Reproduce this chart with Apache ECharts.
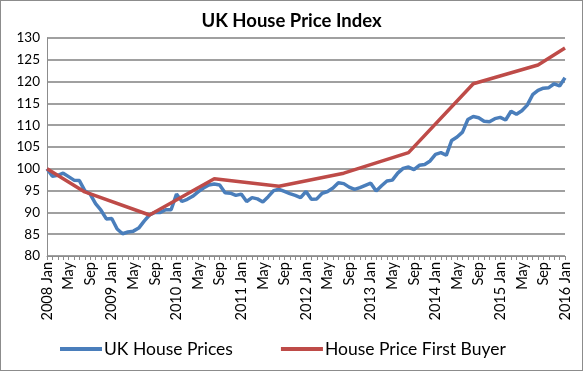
<!DOCTYPE html>
<html><head><meta charset="utf-8">
<script src="https://cdn.jsdelivr.net/npm/echarts@6/dist/echarts.min.js"></script>
<style>
html,body{margin:0;padding:0;background:#fff;}
#c{width:583px;height:371px;box-sizing:border-box;border:1px solid #8c8c8c;}
</style></head>
<body><div id="c"></div>
<script>
var years = [2008,2009,2010,2011,2012,2013,2014,2015,2016];
var monthNames = ['Jan','Feb','Mar','Apr','May','Jun','Jul','Aug','Sep','Oct','Nov','Dec'];
var categories = [];
years.forEach(function(y){ monthNames.forEach(function(m){ if (categories.length < 97) categories.push(m === 'Jan' ? y + ' Jan' : m); }); });

var ukHousePrices = [
 100, 98.3, 98.5, 99.0, 98.2, 97.4, 97.3, 95.0, 94.2, 92.0, 90.5, 88.5,
 88.6, 86.2, 85.1, 85.5, 85.7, 86.4, 88.0, 89.4, 90.0, 90.0, 90.6, 90.6,
 94.2, 92.5, 93.0, 93.7, 94.7, 95.6, 96.3, 96.5, 96.3, 94.5, 94.4, 93.9,
 94.2, 92.5, 93.4, 93.1, 92.4, 93.6, 95.0, 95.3, 94.8, 94.3, 93.9, 93.4,
 94.8, 93.0, 93.1, 94.4, 94.8, 95.6, 96.8, 96.6, 95.8, 95.3, 95.7, 96.2,
 96.7, 94.9, 96.1, 97.2, 97.4, 99.0, 100.1, 100.4, 99.8, 100.8, 101.0, 101.8,
 103.3, 103.7, 103.1, 106.5, 107.3, 108.4, 111.3, 112.0, 111.7, 110.9, 110.8, 111.5,
 111.8, 111.2, 113.2, 112.5, 113.3, 114.6, 117.0, 118.0, 118.5, 118.6, 119.5, 119.0,
 120.9
];
var firstBuyerMonthIdx = [0, 7, 19, 31, 43, 55, 67, 79, 91, 96];
var firstBuyerValues = [100, 94.7, 89.4, 97.7, 96.0, 99.0, 103.7, 119.5, 123.8, 127.7];

var yTicks = {min: 80, max: 130, interval: 5};

var chart = echarts.init(document.getElementById('c'));
var font = 'Lato, "Open Sans", sans-serif';
chart.setOption({
  animation: false,
  title: {
    text: 'UK House Price Index', left: 'center', top: 6,
    textStyle: {fontFamily: font, fontSize: 18.5, fontWeight: 'bold', color: '#000'}
  },
  legend: {
    bottom: 7, left: 54, itemGap: 48, itemWidth: 42, itemHeight: 4,
    icon: 'rect',
    textStyle: {fontFamily: font, fontSize: 17.5, color: '#000', padding: [0, 0, 0, -3]},
    data: ['UK House Prices', 'House Price First Buyer']
  },
  grid: {left: 46, right: 17, top: 37, bottom: 114, containLabel: false},
  xAxis: {
    type: 'category', data: categories, boundaryGap: false,
    axisLine: {lineStyle: {color: '#8c8c8c', width: 1}},
    axisTick: {show: true, interval: 0, length: 4, lineStyle: {color: '#8c8c8c'}},
    axisLabel: {interval: 3, rotate: 90, fontFamily: font, fontSize: 14.5, color: '#000', margin: 6},
    splitLine: {show: false}
  },
  yAxis: {
    type: 'value', min: yTicks.min, max: yTicks.max, interval: yTicks.interval,
    axisLine: {show: true, lineStyle: {color: '#8c8c8c', width: 1}},
    axisTick: {show: false},
    axisLabel: {fontFamily: font, fontSize: 13.5, color: '#000', margin: 7},
    splitLine: {lineStyle: {color: '#a0a0a0', width: 2}}
  },
  series: [
    {
      name: 'UK House Prices', type: 'line', data: ukHousePrices,
      showSymbol: false, symbol: 'none',
      lineStyle: {color: '#4a7ebb', width: 3.5}, itemStyle: {color: '#4a7ebb'}
    },
    {
      name: 'House Price First Buyer', type: 'line',
      data: firstBuyerMonthIdx.map(function(m, i){ return [m, firstBuyerValues[i]]; }),
      showSymbol: false, symbol: 'none',
      lineStyle: {color: '#be4b48', width: 3.5}, itemStyle: {color: '#be4b48'}
    }
  ]
});
</script></body></html>
